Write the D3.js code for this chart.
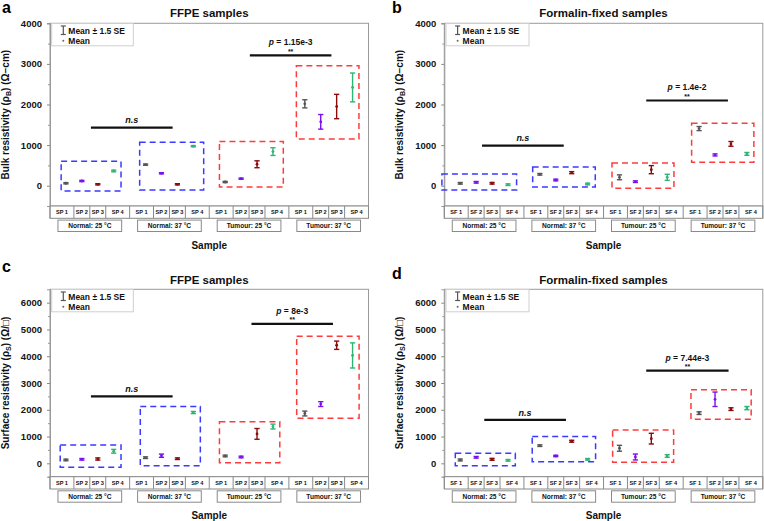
<!DOCTYPE html>
<html><head><meta charset="utf-8">
<script src="https://cdn.jsdelivr.net/npm/d3@7"></script>
<style>body{margin:0;background:#fff} svg{display:block} text{font-family:"Liberation Sans",Arial,Helvetica,sans-serif}</style>
</head><body><svg id="chart" width="764" height="521"></svg>
<script>
// ---------- DATA ----------
const groups = ["Normal: 25 °C", "Normal: 37 °C", "Tumour: 25 °C", "Tumour: 37 °C"];
const spLabels = ["SP 1", "SP 2", "SP 3", "SP 4"];
const sfLabels = ["SF 1", "SF 2", "SF 3", "SF 4"];
const sampleColors = ["#555555", "#7a10f0", "#8b0a0a", "#2fb575"];
const groupBoxColors = ["#3a3aff", "#3a3aff", "#ff3c3c", "#ff3c3c"];

// Panel a: FFPE bulk resistivity — means and 1.5 SE half-ranges (order: group1 SP1..SP4, group2 ...)
const aMean = [60, 116, 35, 363, 519, 306, 35, 973, 91, 173, 528, 840, 2017, 1573, 1950, 2420];
const aErr  = [15, 15, 15, 20, 15, 15, 15, 15, 15, 15, 85, 95, 100, 180, 300, 355];
// Panel b: Formalin-fixed bulk resistivity
const bMean = [59, 84, 60, 25, 281, 140, 321, 42, 207, 99, 395, 207, 1407, 758, 1030, 783];
const bErr  = [20, 20, 20, 20, 20, 20, 25, 20, 60, 20, 100, 75, 50, 25, 58, 35];
// Panel c: FFPE surface resistivity
const cMean = [125, 150, 161, 450, 210, 285, 172, 1897, 274, 236, 1099, 1373, 1860, 2212, 4410, 4030];
const cErr  = [30, 30, 40, 70, 30, 60, 30, 40, 30, 30, 200, 90, 90, 90, 155, 470];
// Panel d: Formalin-fixed surface resistivity
const dMean = [125, 225, 150, 112, 660, 274, 825, 150, 562, 236, 922, 274, 1875, 2392, 2025, 2062];
const dErr  = [35, 30, 35, 30, 30, 25, 35, 30, 110, 110, 200, 50, 50, 270, 50, 60];

// Dashed group boxes: [xStart, xEnd, yLow, yHigh] in data units
const aBoxes = [[0.7, 4.46, -130, 600], [5.63, 9.65, -106, 1071], [10.64, 14.65, -32, 1086], [15.47, 19.4, 1153, 2956]];
const bBoxes = [[-0.15, 4.54, -106, 289], [5.55, 9.48, -32, 462], [10.53, 14.42, -65, 560], [15.53, 19.44, 578, 1540]];
const cBoxes = [[0.64, 4.46, -150, 686], [5.67, 9.44, -90, 2123], [10.64, 14.43, 22, 1549], [15.49, 19.41, 1687, 4748]];
const dBoxes = [[0.69, 4.46, -90, 375], [5.52, 9.5, 60, 1000], [10.57, 14.4, 37, 1249], [15.49, 19.27, 1650, 2749]];

// Significance bars: [xStart, xEnd, yValue]
const aNs = [2.57, 7.7, 1432],  aP = [12.55, 17.67, 3210];
const bNs = [2.37, 7.5, 988],   bP = [12.68, 17.81, 2099];
const cNs = [2.57, 7.7, 2497],  cP = [12.65, 17.77, 5212];
const dNs = [2.51, 7.64, 1624], dP = [12.68, 17.85, 3465];
const pTexts = ["1.15e-3", "1.4e-2", "8e-3", "7.44e-3"];

const titles = ["FFPE samples", "Formalin-fixed samples", "FFPE samples", "Formalin-fixed samples"];
const letters = ["a", "b", "c", "d"];
const bulkTicks = [0, 1000, 2000, 3000, 4000];
const surfTicks = [0, 1000, 2000, 3000, 4000, 5000, 6000];

// ---------- LAYOUT ----------
const svg = d3.select("#chart");
const W = 318.5;
const panels = [
  {mean: aMean, err: aErr, boxes: aBoxes, ns: aNs, p: aP, labels: spLabels, ticks: bulkTicks, yMax: 4000, kind: "B",
   left: 50, top: 23.3, bottom: 206, letterX: 2, letterY: 13, ylabX: 5, sampleY: 245},
  {mean: bMean, err: bErr, boxes: bBoxes, ns: bNs, p: bP, labels: sfLabels, ticks: bulkTicks, yMax: 4000, kind: "B",
   left: 444.3, top: 23.3, bottom: 206, letterX: 392, letterY: 13, ylabX: 399, sampleY: 245},
  {mean: cMean, err: cErr, boxes: cBoxes, ns: cNs, p: cP, labels: spLabels, ticks: surfTicks, yMax: 6500, kind: "S",
   left: 50, top: 289.3, bottom: 476.7, letterX: 2, letterY: 272, ylabX: 5, sampleY: 515},
  {mean: dMean, err: dErr, boxes: dBoxes, ns: dNs, p: dP, labels: sfLabels, ticks: surfTicks, yMax: 6500, kind: "S",
   left: 444.3, top: 289.3, bottom: 476.7, letterX: 392, letterY: 279, ylabX: 399, sampleY: 515}
];
const titleY = [12.8, 12.8, 279.5, 280];

panels.forEach((P, pi) => {
  const g = svg.append("g");
  const x = d3.scaleLinear().domain([0, 20]).range([P.left, P.left + W]);
  const y = d3.scaleLinear().domain([-500, P.yMax]).range([P.bottom, P.top]);
  const xc = (P.left + P.left + W) / 2;

  // letter & title
  g.append("text").attr("x", P.letterX).attr("y", P.letterY).attr("font-size", 16).attr("font-weight", "bold").text(letters[pi]);
  g.append("text").attr("x", xc).attr("y", titleY[pi]).attr("text-anchor", "middle").attr("dominant-baseline", "central")
    .attr("font-size", 11.5).attr("font-weight", "bold").attr("fill", "#111").text(titles[pi]);

  // frame
  g.append("rect").attr("x", P.left).attr("y", P.top).attr("width", W).attr("height", P.bottom - P.top)
    .attr("fill", "none").attr("stroke", "#9a9a9a").attr("stroke-width", 1);

  // y axis major
  const ga = g.append("g").attr("transform", `translate(${P.left},0)`)
    .call(d3.axisLeft(y).tickValues(P.ticks).tickSize(3).tickPadding(5).tickFormat(d3.format("d")));
  ga.select(".domain").attr("stroke", "#9a9a9a");
  ga.selectAll(".tick line").attr("stroke", "#888");
  ga.selectAll(".tick text").attr("font-size", 9.5).attr("font-weight", "bold").attr("fill", "#151515")
    .attr("font-family", "Liberation Sans, Arial, sans-serif");
  // minor ticks
  const minor = d3.range(-500, P.yMax, 1000);
  const gm = g.append("g").attr("transform", `translate(${P.left},0)`)
    .call(d3.axisLeft(y).tickValues(minor).tickSize(2).tickFormat(""));
  gm.select(".domain").remove();
  gm.selectAll(".tick line").attr("stroke", "#999");

  // y label
  const yl = g.append("text").attr("transform", `translate(${P.ylabX},${(P.top + P.bottom) / 2}) rotate(-90)`)
    .attr("text-anchor", "middle").attr("dominant-baseline", "central")
    .attr("font-size", 10).attr("font-weight", "bold").attr("fill", "#111");
  if (P.kind === "B") {
    yl.append("tspan").text("Bulk resistivity (ρ");
    yl.append("tspan").attr("font-size", 7).attr("dy", 2.5).text("B");
    yl.append("tspan").attr("dy", -2.5).text(") (Ω−cm)");
  } else {
    yl.append("tspan").text("Surface resistivity (ρ");
    yl.append("tspan").attr("font-size", 7).attr("dy", 2.5).text("S");
    yl.append("tspan").attr("dy", -2.5).text(") (Ω/□)");
  }

  // legend
  const lg = g.append("g");
  const lx = P.left + 1.7, ly = P.top + 0.2;
  lg.append("rect").attr("x", lx).attr("y", ly).attr("width", pi % 2 ? 83 : 81.6).attr("height", 22.3)
    .attr("fill", "#fff").attr("stroke", "#cfcfcf").attr("stroke-width", 1);
  const ix = lx + 11.6;
  lg.append("line").attr("x1", ix).attr("x2", ix).attr("y1", ly + 2.5).attr("y2", ly + 11).attr("stroke", "#555").attr("stroke-width", 1.2);
  [ly + 2.5, ly + 11].forEach(yy => lg.append("line").attr("x1", ix - 2.5).attr("x2", ix + 2.5).attr("y1", yy).attr("y2", yy).attr("stroke", "#555").attr("stroke-width", 1.2));
  lg.append("text").attr("x", lx + 16.6).attr("y", ly + 10).attr("font-size", 8.5).attr("font-weight", "bold").attr("fill", "#111").text("Mean ± 1.5 SE");
  lg.append("circle").attr("cx", ix).attr("cy", ly + 17.3).attr("r", 1).attr("fill", "#666");
  lg.append("text").attr("x", lx + 16.6).attr("y", ly + 20.3).attr("font-size", 8.5).attr("font-weight", "bold").attr("fill", "#111").text("Mean");

  // category table row 1
  const bTop = P.bottom;
  const r1h = 12.3;
  g.append("rect").attr("x", P.left).attr("y", bTop).attr("width", W).attr("height", r1h)
    .attr("fill", "#fff").attr("stroke", "#8a8a8a").attr("stroke-width", 1);
  const cellEdges = [];
  groups.forEach((_, gi) => { [0, 1.5, 2.5, 3.5, 5].forEach(o => cellEdges.push(gi * 5 + o)); });
  const uniqEdges = Array.from(new Set(cellEdges));
  g.selectAll(null).data(uniqEdges).join("line")
    .attr("x1", d => x(d)).attr("x2", d => x(d)).attr("y1", bTop).attr("y2", bTop + r1h)
    .attr("stroke", "#8a8a8a").attr("stroke-width", 1);
  const cells = [];
  groups.forEach((_, gi) => {
    const e = [0, 1.5, 2.5, 3.5, 5].map(o => gi * 5 + o);
    P.labels.forEach((lab, i) => cells.push({lab, c: (e[i] + e[i + 1]) / 2}));
  });
  g.selectAll(null).data(cells).join("text")
    .attr("x", d => x(d.c)).attr("y", bTop + r1h / 2).attr("text-anchor", "middle").attr("dominant-baseline", "central")
    .attr("font-size", 5.6).attr("font-weight", "bold").attr("fill", "#111").text(d => d.lab);
  // row 2 group boxes
  const r2y = bTop + r1h + 1.8, r2h = 11.4;
  groups.forEach((name, gi) => {
    g.append("rect").attr("x", x(gi * 5 + 0.5)).attr("y", r2y).attr("width", x(gi * 5 + 4.5) - x(gi * 5 + 0.5)).attr("height", r2h)
      .attr("fill", "#fff").attr("stroke", "#8a8a8a").attr("stroke-width", 1);
    g.append("text").attr("x", x(gi * 5 + 2.5)).attr("y", r2y + r2h / 2).attr("text-anchor", "middle").attr("dominant-baseline", "central")
      .attr("font-size", 6.6).attr("font-weight", "bold").attr("fill", "#111").text(name);
  });
  g.append("text").attr("x", xc).attr("y", P.sampleY).attr("text-anchor", "middle").attr("dominant-baseline", "central")
    .attr("font-size", 10).attr("font-weight", "bold").attr("fill", "#111").text("Sample");

  // dashed boxes
  g.selectAll(null).data(P.boxes).join("rect")
    .attr("x", d => x(d[0])).attr("y", d => y(d[3])).attr("width", d => x(d[1]) - x(d[0])).attr("height", d => y(d[2]) - y(d[3]))
    .attr("fill", "none").attr("stroke", (d, i) => groupBoxColors[i]).attr("stroke-width", 1.5).attr("stroke-dasharray", "6,4");

  // points and error bars
  const pts = P.mean.map((m, i) => ({m, e: P.err[i], pos: Math.floor(i / 4) * 5 + (i % 4) + 1, col: sampleColors[i % 4]}));
  const pg = g.selectAll(null).data(pts).join("g");
  pg.append("line").attr("x1", d => x(d.pos)).attr("x2", d => x(d.pos)).attr("y1", d => y(d.m - d.e)).attr("y2", d => y(d.m + d.e))
    .attr("stroke", d => d.col).attr("stroke-width", 1.4);
  pg.append("line").attr("x1", d => x(d.pos) - 2.6).attr("x2", d => x(d.pos) + 2.6).attr("y1", d => y(d.m - d.e)).attr("y2", d => y(d.m - d.e))
    .attr("stroke", d => d.col).attr("stroke-width", 1.4);
  pg.append("line").attr("x1", d => x(d.pos) - 2.6).attr("x2", d => x(d.pos) + 2.6).attr("y1", d => y(d.m + d.e)).attr("y2", d => y(d.m + d.e))
    .attr("stroke", d => d.col).attr("stroke-width", 1.4);
  pg.append("circle").attr("cx", d => x(d.pos)).attr("cy", d => y(d.m)).attr("r", 1.4).attr("fill", d => d.col);

  // significance
  g.append("line").attr("x1", x(P.ns[0])).attr("x2", x(P.ns[1])).attr("y1", y(P.ns[2])).attr("y2", y(P.ns[2]))
    .attr("stroke", "#111").attr("stroke-width", 2.2);
  g.append("text").attr("x", x((P.ns[0] + P.ns[1]) / 2)).attr("y", y(P.ns[2]) - 4.3).attr("text-anchor", "middle")
    .attr("font-size", 9).attr("font-weight", "bold").attr("font-style", "italic").attr("fill", "#111").text("n.s");
  g.append("line").attr("x1", x(P.p[0])).attr("x2", x(P.p[1])).attr("y1", y(P.p[2])).attr("y2", y(P.p[2]))
    .attr("stroke", "#111").attr("stroke-width", 2.2);
  const pt = g.append("text").attr("x", x((P.p[0] + P.p[1]) / 2)).attr("y", y(P.p[2]) - 10).attr("text-anchor", "middle")
    .attr("font-size", 8.5).attr("font-weight", "bold").attr("fill", "#111");
  pt.append("tspan").attr("font-style", "italic").text("p");
  pt.append("tspan").text(" = " + pTexts[pi]);
  g.append("text").attr("x", x((P.p[0] + P.p[1]) / 2)).attr("y", y(P.p[2]) - 1.3).attr("text-anchor", "middle")
    .attr("font-size", 7).attr("font-weight", "bold").attr("fill", "#111").text("**");
});
</script>
</body></html>
